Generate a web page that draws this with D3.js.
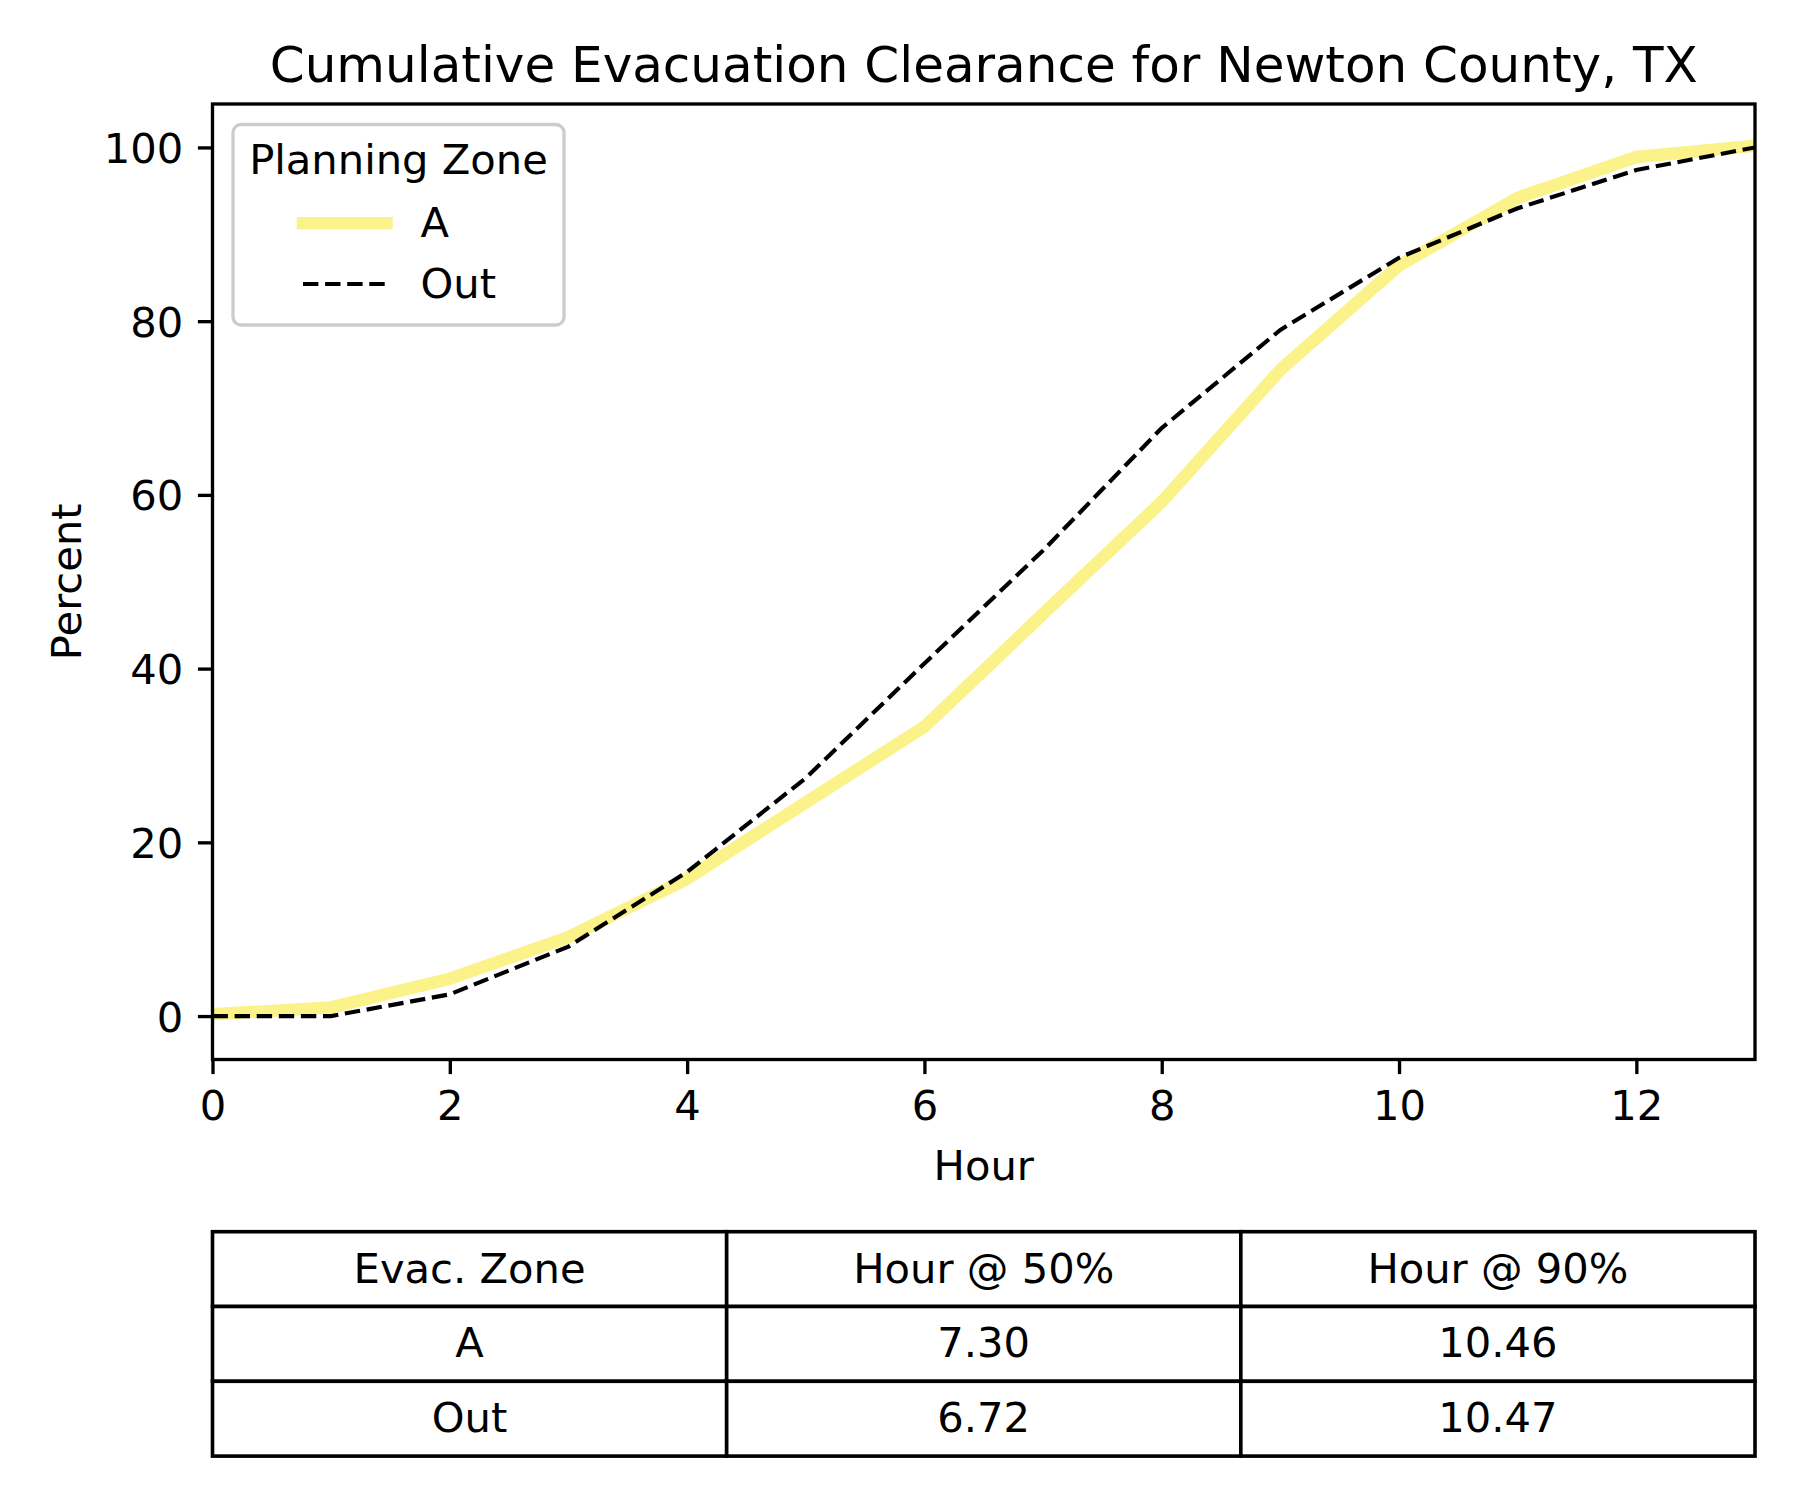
<!DOCTYPE html>
<html>
<head>
<meta charset="utf-8">
<script src="https://cdn.jsdelivr.net/npm/d3@7"></script>
<style>
    body { margin: 0; background: #ffffff; }
    text { font-family: "DejaVu Sans", sans-serif; fill: #000000; }
</style>
</head>
<body>
<svg id="viz" width="1800" height="1500"></svg>
<script>
window.addEventListener("load", run);

// hours on the x axis
var hours = [0, 1, 2, 3, 4, 5, 6, 7, 8, 9, 10, 11, 12, 13];
// cumulative percent cleared, zone A and out-of-zone
var zoneA = [0.2, 1.0, 4.3, 9.1, 15.8, 24.6, 33.3, 46.3, 59.2, 74.4, 86.4, 94.2, 98.9, 100.2];
var zoneOut = [0.0, 0.0, 2.5, 8.0, 16.6, 27.4, 40.6, 53.6, 67.7, 79.0, 87.3, 93.0, 97.4, 100.0];

var xTicks = [0, 2, 4, 6, 8, 10, 12];
var yTicks = [0, 20, 40, 60, 80, 100];

var legendLabels = ["A", "Out"];
var tableHeader = ["Evac. Zone", "Hour @ 50%", "Hour @ 90%"];
var tableRows = [
    ["A", "7.30", "10.46"],
    ["Out", "6.72", "10.47"]
];

var GLOBAL = {
    left: 212.5,
    right: 1755,
    top: 104,
    bottom: 1059.5,
    yellow: "#fbf28a",
    font: 41.67
};

function run() {
    var svg = d3.select("#viz");
    svg.append("rect").attr("width", 1800).attr("height", 1500).attr("fill", "#ffffff");

    var x = d3.scaleLinear().domain([0, 13]).range([GLOBAL.left, GLOBAL.right]);
    var y = d3.scaleLinear().domain([-5, 105]).range([GLOBAL.bottom, GLOBAL.top]);

    drawLines(svg, x, y);
    drawAxes(svg, x, y);
    drawLegend(svg);
    drawTable(svg);
}

function drawLines(svg, x, y) {
    svg.append("clipPath").attr("id", "plotclip")
        .append("rect")
        .attr("x", GLOBAL.left).attr("y", GLOBAL.top)
        .attr("width", GLOBAL.right - GLOBAL.left)
        .attr("height", GLOBAL.bottom - GLOBAL.top);

    var line = d3.line()
        .x(function(d, i) { return x(hours[i]); })
        .y(function(d) { return y(d); });

    var g = svg.append("g").attr("clip-path", "url(#plotclip)");

    g.append("path")
        .attr("d", line(zoneA))
        .attr("fill", "none")
        .attr("stroke", GLOBAL.yellow)
        .attr("stroke-width", 12.5)
        .attr("stroke-linejoin", "round")
        .attr("stroke-linecap", "square");

    g.append("path")
        .attr("d", line(zoneOut))
        .attr("fill", "none")
        .attr("stroke", "#000000")
        .attr("stroke-width", 4.17)
        .attr("stroke-dasharray", "15.4,6.7");
}

function drawAxes(svg, x, y) {
    var xAxis = svg.append("g")
        .attr("transform", "translate(0," + GLOBAL.bottom + ")")
        .call(d3.axisBottom(x).tickValues(xTicks).tickSize(14.6).tickPadding(14.6).tickFormat(d3.format("d")));
    var yAxis = svg.append("g")
        .attr("transform", "translate(" + GLOBAL.left + ",0)")
        .call(d3.axisLeft(y).tickValues(yTicks).tickSize(14.6).tickPadding(14.6).tickFormat(d3.format("d")));

    [xAxis, yAxis].forEach(function(ax) {
        ax.select(".domain").remove();
        ax.selectAll(".tick line").attr("stroke", "#000").attr("stroke-width", 3.33);
        ax.selectAll(".tick text")
            .attr("font-family", "DejaVu Sans")
            .attr("font-size", GLOBAL.font)
            .attr("fill", "#000");
    });
    xAxis.selectAll(".tick text").attr("dy", null).attr("y", 60.5);
    yAxis.selectAll(".tick text").attr("dy", null).attr("y", 15);

    // frame
    svg.append("rect")
        .attr("x", GLOBAL.left).attr("y", GLOBAL.top)
        .attr("width", GLOBAL.right - GLOBAL.left)
        .attr("height", GLOBAL.bottom - GLOBAL.top)
        .attr("fill", "none")
        .attr("stroke", "#000")
        .attr("stroke-width", 3.33);

    svg.append("text")
        .attr("x", (GLOBAL.left + GLOBAL.right) / 2)
        .attr("y", 82)
        .attr("text-anchor", "middle")
        .attr("font-size", 50)
        .text("Cumulative Evacuation Clearance for Newton County, TX");

    svg.append("text")
        .attr("x", (GLOBAL.left + GLOBAL.right) / 2)
        .attr("y", 1180)
        .attr("text-anchor", "middle")
        .attr("font-size", GLOBAL.font)
        .text("Hour");

    svg.append("text")
        .attr("transform", "translate(81," + ((GLOBAL.top + GLOBAL.bottom) / 2) + ") rotate(-90)")
        .attr("text-anchor", "middle")
        .attr("font-size", GLOBAL.font)
        .text("Percent");
}

function drawLegend(svg) {
    var lg = svg.append("g");
    lg.append("rect")
        .attr("x", 233).attr("y", 124.5)
        .attr("width", 331).attr("height", 200.5)
        .attr("rx", 8).attr("ry", 8)
        .attr("fill", "#ffffff").attr("fill-opacity", 0.8)
        .attr("stroke", "#cccccc").attr("stroke-width", 3.33);

    lg.append("text")
        .attr("x", 398.5).attr("y", 174.3)
        .attr("text-anchor", "middle")
        .attr("font-size", GLOBAL.font)
        .text("Planning Zone");

    var rowsY = [223.3, 284];
    var styles = [
        { stroke: GLOBAL.yellow, width: 12.5, dash: null, cap: "square" },
        { stroke: "#000000", width: 4.17, dash: "15.4,6.7", cap: "butt" }
    ];
    legendLabels.forEach(function(lab, i) {
        lg.append("line")
            .attr("x1", 303).attr("x2", 386.5)
            .attr("y1", rowsY[i]).attr("y2", rowsY[i])
            .attr("stroke", styles[i].stroke)
            .attr("stroke-width", styles[i].width)
            .attr("stroke-dasharray", styles[i].dash)
            .attr("stroke-linecap", styles[i].cap);
        lg.append("text")
            .attr("x", 420.5).attr("y", rowsY[i] + 14)
            .attr("font-size", GLOBAL.font)
            .text(lab);
    });
}

function drawTable(svg) {
    var all = [tableHeader].concat(tableRows);
    var top = 1231.7, rowH = 74.8;
    var colX = d3.scaleLinear().domain([0, 3]).range([GLOBAL.left, GLOBAL.right]);
    var t = svg.append("g");

    all.forEach(function(row, r) {
        row.forEach(function(cell, c) {
            t.append("rect")
                .attr("x", colX(c)).attr("y", top + r * rowH)
                .attr("width", colX(c + 1) - colX(c)).attr("height", rowH)
                .attr("fill", "#ffffff")
                .attr("stroke", "#000").attr("stroke-width", 3.6);
            t.append("text")
                .attr("x", (colX(c) + colX(c + 1)) / 2)
                .attr("y", top + r * rowH + rowH / 2 + 13.5)
                .attr("text-anchor", "middle")
                .attr("font-size", GLOBAL.font)
                .text(cell);
        });
    });
}
</script>
</body>
</html>
